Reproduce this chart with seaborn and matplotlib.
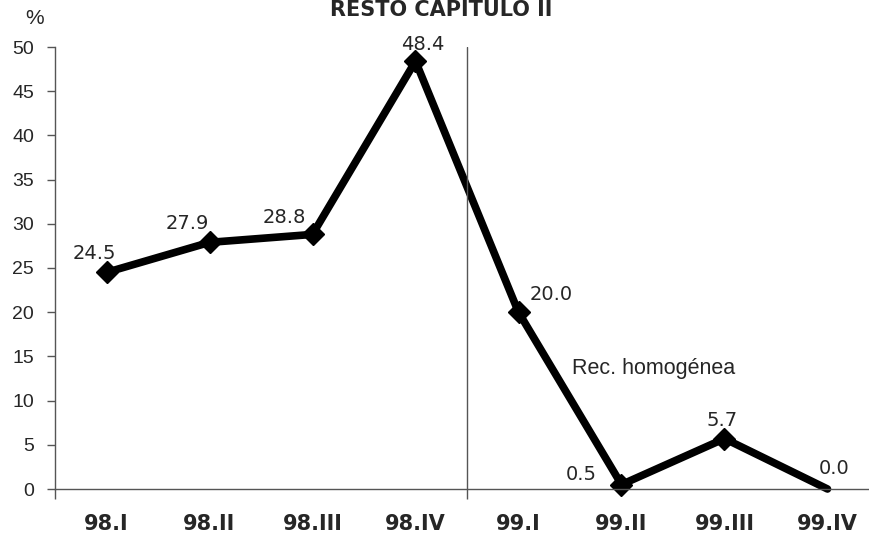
import pandas as pd
import matplotlib.pyplot as plt
import seaborn as sns
from matplotlib.ticker import FixedLocator

# quarterly values, %
quarters = ["98.I", "98.II", "98.III", "98.IV", "99.I", "99.II", "99.III", "99.IV"]
values = [24.5, 27.9, 28.8, 48.4, 20.0, 0.5, 5.7, 0.0]
value_labels = ["24.5", "27.9", "28.8", "48.4", "20.0", "0.5", "5.7", "0.0"]
yticks = [0, 5, 10, 15, 20, 25, 30, 35, 40, 45, 50]

title = "RESTO CAPITULO II"
note = "Rec. homogénea"


def main():
    sns.set_theme(style="white")
    plt.rcParams["font.family"] = ["Liberation Sans", "DejaVu Sans"]

    fig = plt.figure(figsize=(8.69, 5.36), dpi=100)
    # axes runs a bit past the right edge, like the cropped original
    ax = fig.add_axes([55 / 869, 47 / 536, 824 / 869, 442 / 536])

    df = pd.DataFrame({"q": quarters, "v": values})
    sns.lineplot(data=df, x="q", y="v", ax=ax, sort=False, color="black",
                 linewidth=5.5, marker="D", markersize=11, markeredgewidth=1,
                 markeredgecolor="black", markerfacecolor="black",
                 markevery=list(range(len(values) - 1)),
                 solid_capstyle="round", clip_on=False)

    ax.set_xlim(-0.5, len(quarters) - 0.5)
    ax.set_ylim(0, 50)
    ax.set_yticks(yticks)
    ax.set_xlabel("")
    ax.set_ylabel("")

    # separator between 1998 and 1999
    ax.axvline(3.5, color="#555555", linewidth=1)

    for s in ["top", "right"]:
        ax.spines[s].set_visible(False)
    for s in ["left", "bottom"]:
        ax.spines[s].set_color("#555555")
        ax.spines[s].set_linewidth(1)

    ax.tick_params(axis="y", which="major", direction="out", length=6, width=1,
                   color="#555555", labelsize=14, pad=9, left=True)
    ax.tick_params(axis="x", which="major", length=0, pad=18)
    ax.xaxis.set_minor_locator(FixedLocator([-0.5, 3.5]))
    ax.tick_params(axis="x", which="minor", direction="out", length=7, width=1,
                   color="#555555", bottom=True)
    for lab in ax.get_xticklabels():
        lab.set_fontfamily("DejaVu Sans")
        lab.set_fontweight("bold")
        lab.set_fontsize(15)

    offsets = [(-12, 19), (-22, 19), (-28, 17), (7, 17), (33, 18), (-40, 10), (-2, 18), (7, 20)]
    for i, (txt, off) in enumerate(zip(value_labels, offsets)):
        ax.annotate(txt, (i, values[i]), xytext=off, textcoords="offset pixels",
                    ha="center", va="center", fontsize=14, family="DejaVu Sans",
                    annotation_clip=False)

    ax.text(4.52, 13.6, note, ha="left", va="center", fontsize=15.5)

    fig.text(441 / 869, 1 - 16 / 536, title, ha="center", va="baseline",
             fontsize=15, fontweight="bold", family="DejaVu Sans")
    fig.text(35 / 869, 1 - 18 / 536, "%", ha="center", va="center", fontsize=15)

    fig.savefig("out.png", dpi=100)


main()
